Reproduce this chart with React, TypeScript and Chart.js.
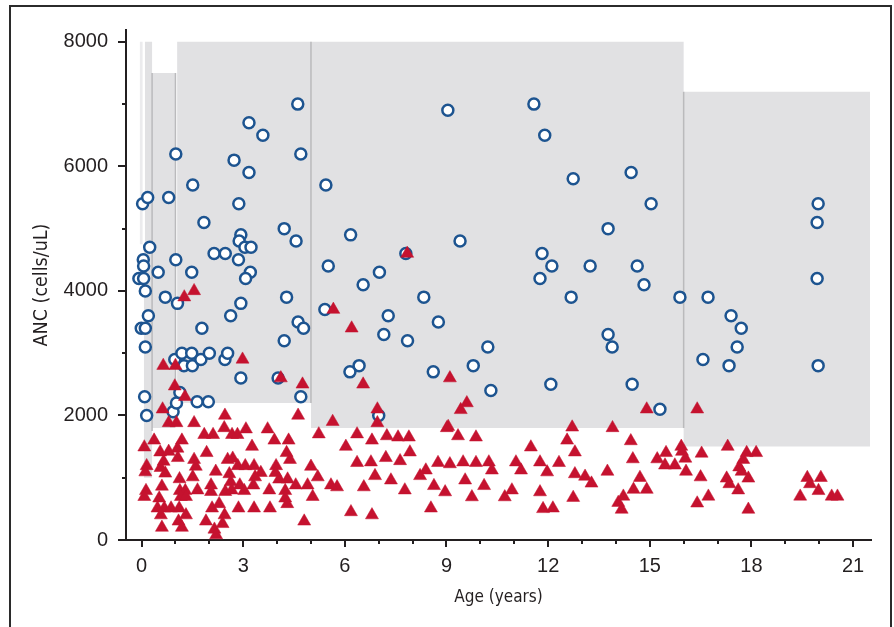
import React, { useEffect, useRef } from 'react';
import { Chart, registerables } from 'chart.js';

Chart.register(...registerables);

// ---- Data ----
const circleAge = [
  0.03, 0.18, 0.24, 0.05, 0.06, -0.08, 0.06, 0.11, 0.2, -0.01, 0.11, 0.11, 0.09, 0.15,
  0.49, 0.7, 0.8, 1.01, 1.01, 1.06, 0.98, 1.19, 1.25, 0.93, 1.03, 1.13,
  1.51, 1.84, 1.48, 1.48, 1.5, 1.75, 2.0, 1.78, 1.64, 1.97,
  2.14, 2.47, 2.63, 2.46, 2.54, 2.73, 2.87, 2.86, 2.93, 2.88, 3.05, 3.23, 3.21, 3.07, 2.93, 2.93, 3.17, 3.17,
  3.58, 4.61, 4.7, 4.21, 4.56, 4.28, 4.62, 4.78, 4.21, 4.03, 4.7,
  5.44, 5.51, 5.41, 6.17, 6.54, 7.02, 7.28, 7.15, 6.42, 6.15, 7.0, 7.8, 7.85, 8.33, 8.76, 8.61,
  9.04, 9.4, 9.79, 10.22, 10.31, 11.58, 11.9, 11.82, 11.76, 12.11, 12.08, 12.74, 12.68, 13.24,
  13.77, 13.77, 13.89, 14.45, 14.63, 14.83, 14.48, 15.04, 15.3, 15.89, 16.57, 16.72, 17.4, 17.7,
  17.58, 17.34, 19.97, 19.94, 19.94, 19.97,
];
const circleAnc = [
  5400, 5500, 4700, 4500, 4400, 4200, 4200, 4000, 3600, 3400, 3400, 3100, 2300, 2000,
  4300, 3900, 5500, 4500, 6200, 3800, 2900, 3000, 2800, 2060, 2200, 2370,
  5700, 5100, 4300, 3000, 2800, 2900, 3000, 3400, 2220, 2220,
  4600, 4600, 3600, 2900, 3000, 6100, 5400, 4500, 4900, 4800, 4700, 4700, 4300, 4200, 3800, 2600, 6700, 5900,
  6500, 7000, 6200, 5000, 4800, 3900, 3500, 3400, 3200, 2600, 2300,
  5700, 4400, 3700, 4900, 4100, 4300, 3600, 3300, 2800, 2700, 2000, 4600, 3200, 3900, 3500, 2700,
  6900, 4800, 2800, 3100, 2400, 7000, 6500, 4600, 4200, 4400, 2500, 5800, 3900, 4400,
  5000, 3300, 3100, 5900, 4400, 4100, 2500, 5400, 2100, 3900, 2900, 3900, 3600, 3400,
  3100, 2800, 5400, 5100, 4200, 2800,
];

const triAge = [
  0.64, 1.0, 1.26, 1.55, 2.98, 4.11, 4.75, 0.98, 1.28, 0.62, 2.46, 4.62, 5.66, 6.2, 6.54, 6.96, 6.96,
  5.64, 7.84, 9.1, 9.6, 9.42, 9.05, 14.91, 16.4, 13.9,
  0.8, 1.03, 1.55, 2.44, 3.08, 3.72, 1.85, 2.11, 2.67, 2.83, 5.23, 0.37, 1.19, 3.92, 4.34,
  0.08, 1.06, 3.26, 0.55, 0.8, 1.92, 4.28, 1.07, 0.65, 1.55, 2.54, 2.69, 4.38,
  0.15, 0.56, 1.6, 2.84, 3.06, 3.32, 3.97, 5.0, 0.11, 0.7, 2.19, 2.59, 3.52, 3.95,
  1.12, 1.51, 3.35, 4.06, 4.31, 5.2, 0.6, 2.05, 2.63, 2.9, 3.3, 4.55, 4.9,
  0.13, 1.13, 1.29, 1.65, 2.05, 2.47, 2.66, 3.03, 3.77, 4.24,
  0.08, 0.52, 1.16, 1.31, 4.24, 5.05, 4.3,
  0.47, 0.67, 0.87, 1.11, 2.08, 2.29, 2.86, 3.32, 3.79, 0.57, 1.31, 2.45,
  1.09, 1.9, 2.39, 4.8, 0.6, 1.19, 2.15, 2.2,
  6.36, 6.03, 6.8, 7.24, 7.57, 7.89, 6.36, 6.77, 7.21, 7.63, 7.92,
  6.89, 7.36, 6.56, 7.77, 8.22, 6.8, 5.77, 5.59, 6.18,
  9.01, 9.34, 9.87, 8.39, 8.75, 9.1, 9.49, 9.87, 10.25, 10.34,
  8.63, 8.54, 8.96, 9.55, 9.75, 10.11, 10.72, 10.93,
  11.05, 11.2, 11.49, 11.76, 11.97, 11.76, 11.85, 12.14,
  12.32, 12.56, 12.71, 12.79, 12.79, 12.74, 13.09, 13.28,
  13.75, 14.44, 14.5, 14.71, 14.52, 14.91, 14.07, 14.22, 14.17,
  15.22, 15.48, 15.45, 15.74, 15.93, 15.95, 16.05, 16.07,
  16.53, 16.5, 16.73, 16.4,
  17.3, 17.86, 18.14, 17.76, 17.64, 17.71, 17.27, 17.35, 17.91, 17.61, 17.91,
  19.65, 19.73, 20.05, 19.98, 19.44, 20.37, 20.54,
];
const triAnc = [
  2800, 2800, 3900, 4000, 2900, 2600, 2500, 2470, 2300, 2100, 2000, 2000, 3700, 3400, 2500, 2100, 1880,
  1900, 4600, 2600, 2200, 2090, 1820, 2100, 2100, 1800,
  1880, 1880, 1880, 1800, 1780, 1780, 1690, 1690, 1690, 1690, 1700, 1600, 1600, 1600, 1600,
  1490, 1470, 1500, 1410, 1420, 1400, 1400, 1320, 1260, 1290, 1290, 1310, 1290,
  1190, 1160, 1180, 1190, 1190, 1190, 1190, 1180, 1090, 1070, 1100, 1060, 1080, 1080,
  980, 1010, 1010, 975, 975, 1010, 860, 880, 930, 880, 880, 880, 880,
  790, 790, 790, 800, 775, 775, 800, 790, 800, 790,
  695, 670, 695, 695, 670, 695, 580,
  510, 510, 510, 510, 510, 580, 510, 510, 510, 400, 400, 400,
  300, 300, 260, 300, 200, 200, 170, 80,
  1700, 1500, 1600, 1670, 1650, 1650, 1240, 1250, 1320, 1270, 1410,
  1030, 960, 850, 800, 1030, 400, 850, 880, 450,
  1800, 1670, 1650, 1120, 1240, 1220, 1250, 1240, 1250, 1120,
  870, 510, 770, 960, 690, 870, 690, 800,
  1250, 1120, 1490, 1250, 1090, 770, 500, 510,
  1240, 1600, 1810, 1410, 1060, 680, 1020, 910,
  1100, 1590, 1300, 1000, 810, 810, 600, 700, 490,
  1300, 1400, 1200, 1200, 1500, 1420, 1310, 1100,
  1390, 1010, 700, 590,
  1500, 1400, 1400, 1290, 1170, 1100, 990, 900, 990, 800, 490,
  1000, 900, 1000, 790, 700, 700, 700,
];

// Reference-range bands (age from / to, ANC low / high)
const bandStart = [-0.05, 0.07, 0.1, 0.31, 1.05, 5.0, 16.0];
const bandEnd = [0.03, 0.1, 0.31, 1.0, 5.0, 16.0, 21.5];
const bandLow = [4750, 1000, 1000, 1800, 2200, 1800, 1500];
const bandHigh = [8000, 4750, 8000, 7500, 8000, 8000, 7200];

// Band boundary lines
const dividerAge = [0.31, 1.0, 5.0, 16.0];
const dividerLow = [1750, 2200, 2200, 1800];
const dividerHigh = [7500, 7500, 8000, 7200];

// Axis ticks
const xTickValues = [0, 3, 6, 9, 12, 15, 18, 21];
const xMinorValues = [1, 2, 4, 5, 7, 8, 10, 11, 13, 14, 16, 17, 19, 20];
const yTickValues = [0, 2000, 4000, 6000, 8000];
const yMinorValues = [1000, 3000, 5000, 7000];

// ---- Styles ----
const AXIS = '#231f20';
const BLUE = '#1d5490';
const RED = '#c5122f';
const BAND = '#e1e1e3';
const STRIP = '#ebebed';
const LINE = '#bababc';
const FONT = "'Liberation Sans', Arial, sans-serif";
const NARROW = "'DejaVu Sans Condensed', 'Liberation Sans', sans-serif";

const pts = (xs: number[], ys: number[]) => xs.map((x, i) => ({ x, y: ys[i] }));

const axisTicksPlugin = {
  id: 'axisTicks',
  afterDraw(chart: any) {
    const { ctx, chartArea } = chart;
    const xs = chart.scales.x;
    const ys = chart.scales.y;
    ctx.save();
    ctx.strokeStyle = AXIS;
    ctx.lineWidth = 2;
    const xTick = (v: number, len: number) => {
      const p = Math.round(xs.getPixelForValue(v));
      ctx.beginPath();
      ctx.moveTo(p, chartArea.bottom);
      ctx.lineTo(p, chartArea.bottom + len);
      ctx.stroke();
    };
    const yTick = (v: number, len: number) => {
      const p = Math.round(ys.getPixelForValue(v));
      ctx.beginPath();
      ctx.moveTo(chartArea.left, p);
      ctx.lineTo(chartArea.left - len, p);
      ctx.stroke();
    };
    xTickValues.forEach((v) => xTick(v, 7));
    xMinorValues.forEach((v) => xTick(v, 4));
    yTickValues.forEach((v) => yTick(v, 8));
    yMinorValues.forEach((v) => yTick(v, 4));
    ctx.restore();
  },
};

export default function App() {
  const ref = useRef<HTMLCanvasElement>(null);

  useEffect(() => {
    const canvas = ref.current;
    if (!canvas) return;

    const bandSets = bandStart.map((s, i) => ({
      label: 'band' + i,
      data: [
        { x: s, y: bandLow[i] },
        { x: s, y: bandHigh[i] },
        { x: bandEnd[i], y: bandHigh[i] },
        { x: bandEnd[i], y: bandLow[i] },
      ],
      showLine: true,
      fill: 'shape',
      backgroundColor: i === 0 ? STRIP : BAND,
      borderColor: 'rgba(0,0,0,0)',
      borderWidth: 1,
      pointRadius: 0,
      order: 4,
    }));

    const dividerSets = dividerAge.map((a, i) => ({
      label: 'div' + i,
      data: [
        { x: a, y: dividerLow[i] },
        { x: a, y: dividerHigh[i] },
      ],
      showLine: true,
      fill: false,
      borderColor: LINE,
      borderWidth: 1.5,
      pointRadius: 0,
      order: 3,
    }));

    const chart = new Chart(canvas, {
      type: 'scatter',
      data: {
        datasets: [
          {
            label: 'Neutropenic',
            data: pts(triAge, triAnc),
            pointStyle: 'triangle',
            pointRadius: 7.5,
            backgroundColor: RED,
            borderColor: RED,
            borderWidth: 0.5,
            order: 1,
          },
          {
            label: 'Normal',
            data: pts(circleAge, circleAnc),
            pointStyle: 'circle',
            pointRadius: 5.5,
            backgroundColor: '#ffffff',
            borderColor: BLUE,
            borderWidth: 2.5,
            order: 2,
          },
          ...dividerSets,
          ...bandSets,
        ] as any,
      },
      options: {
        animation: false,
        responsive: false,
        devicePixelRatio: 1,
        events: [],
        layout: { padding: { left: 0, top: 30, right: 23, bottom: 0 } },
        plugins: { legend: { display: false }, tooltip: { enabled: false } },
        scales: {
          x: {
            type: 'linear',
            min: -0.46,
            max: 21.53,
            afterBuildTicks: (s: any) => {
              s.ticks = xTickValues.map((v) => ({ value: v }));
            },
            afterFit: (s: any) => {
              s.height = 87;
            },
            grid: { display: false, drawTicks: false },
            border: { display: true, color: AXIS, width: 2 },
            ticks: {
              font: { family: FONT, size: 20, lineHeight: 1.2 },
              color: AXIS,
              padding: 14,
              maxRotation: 0,
              autoSkip: false,
              callback: (v: any) => String(v),
            },
            title: {
              display: true,
              text: 'Age (years)',
              font: { family: NARROW, size: 17, lineHeight: 1 },
              color: AXIS,
              padding: { top: 0, bottom: 20.5 },
            },
          },
          y: {
            type: 'linear',
            min: 0,
            max: 8190,
            afterBuildTicks: (s: any) => {
              s.ticks = yTickValues.map((v) => ({ value: v }));
            },
            afterFit: (s: any) => {
              s.width = 126;
            },
            grid: { display: false, drawTicks: false },
            border: { display: true, color: AXIS, width: 2 },
            ticks: {
              font: { family: FONT, size: 20, lineHeight: 1.2 },
              color: AXIS,
              padding: 18,
              autoSkip: false,
              callback: (v: any) => String(v),
            },
            title: {
              display: true,
              text: 'ANC (cells/uL)',
              font: { family: NARROW, size: 19.5, lineHeight: 1 },
              color: AXIS,
              padding: { top: 32.25, bottom: 0 },
            },
          },
        },
      } as any,
      plugins: [axisTicksPlugin],
    });

    return () => chart.destroy();
  }, []);

  return (
    <div
      style={{
        position: 'fixed',
        left: 0,
        top: 0,
        width: 894,
        height: 627,
        overflow: 'hidden',
        background: '#ffffff',
      }}
    >
      <div
        style={{
          position: 'absolute',
          left: 9,
          top: 5,
          width: 879,
          height: 700,
          border: '2px solid #2b2b2b',
        }}
      />
      <canvas
        ref={ref}
        width={894}
        height={627}
        style={{ position: 'absolute', left: 0, top: 0, width: 894, height: 627 }}
      />
    </div>
  );
}
